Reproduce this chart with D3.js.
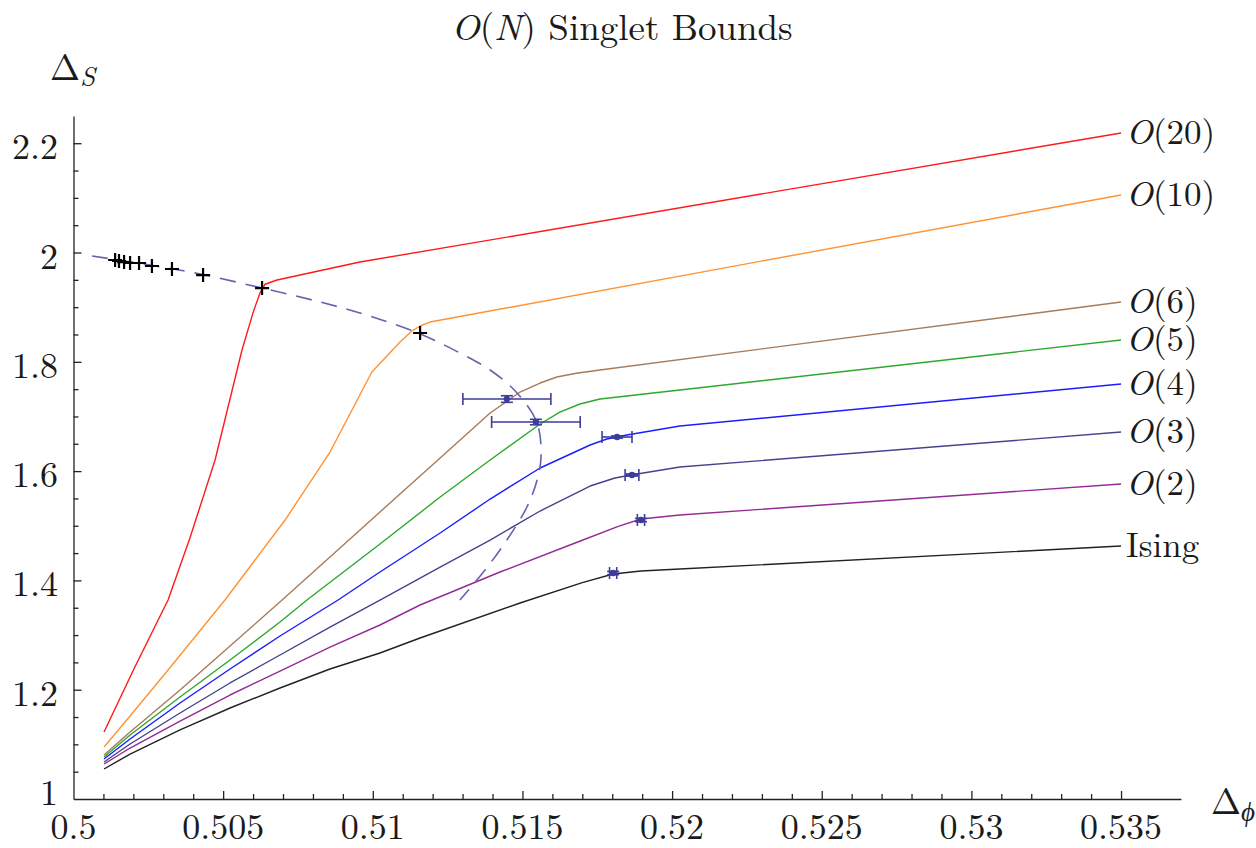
<!DOCTYPE html>
<html><head><meta charset="utf-8">
<script src="https://cdn.jsdelivr.net/npm/d3@7"></script>
<style>
body{margin:0;background:#fff}
svg{display:block;background:#fff}
</style>
</head><body>
<svg id="chart" width="1256" height="848"></svg>
<script>
// ---------- data ----------
const xTickValues = [0.5, 0.505, 0.51, 0.515, 0.52, 0.525, 0.53, 0.535];
const xTickLabels = ["0.5", "0.505", "0.51", "0.515", "0.52", "0.525", "0.53", "0.535"];
const yTickValues = [1, 1.2, 1.4, 1.6, 1.8, 2, 2.2];
const yTickLabels = ["1", "1.2", "1.4", "1.6", "1.8", "2", "2.2"];

const seriesNames = ["O(20)", "O(10)", "O(6)", "O(5)", "O(4)", "O(3)", "O(2)", "Ising"];

const o20X = [0.50102, 0.50205, 0.50316, 0.50389, 0.50473, 0.50563, 0.50600, 0.50623, 0.50640, 0.50680, 0.50957, 0.535];
const o20Y = [1.1226, 1.2415, 1.3641, 1.4776, 1.6203, 1.8216, 1.8900, 1.9260, 1.9420, 1.9497, 1.9826, 2.2187];

const o10X = [0.50102, 0.50189, 0.50316, 0.50506, 0.50707, 0.50857, 0.50997, 0.51091, 0.51130, 0.51160, 0.51191, 0.535];
const o10Y = [1.0952, 1.1519, 1.2360, 1.3641, 1.5105, 1.6349, 1.7813, 1.8362, 1.8560, 1.8660, 1.8728, 2.1052];

const o6X = [0.50102, 0.50189, 0.50356, 0.50523, 0.50697, 0.50857, 0.51024, 0.51225, 0.51392, 0.51492, 0.51559, 0.51615, 0.51680, 0.51759, 0.535];
const o6Y = [1.0805, 1.1226, 1.1995, 1.2800, 1.3641, 1.4428, 1.5252, 1.6240, 1.7063, 1.7447, 1.7612, 1.7722, 1.7790, 1.7850, 1.9094];

const o5X = [0.50102, 0.50189, 0.50356, 0.50523, 0.50690, 0.50780, 0.51024, 0.51225, 0.51392, 0.51559, 0.51625, 0.51692, 0.51759, 0.52026, 0.535];
const o5Y = [1.0769, 1.1171, 1.1866, 1.2543, 1.3239, 1.3641, 1.4666, 1.5526, 1.6203, 1.6862, 1.7081, 1.7228, 1.7319, 1.7484, 1.8399];

const o4X = [0.50102, 0.50189, 0.50356, 0.50523, 0.50690, 0.50884, 0.51024, 0.51225, 0.51392, 0.51559, 0.51726, 0.51782, 0.51849, 0.52026, 0.535];
const o4Y = [1.0732, 1.1098, 1.1757, 1.2379, 1.2983, 1.3641, 1.4154, 1.4867, 1.5489, 1.6057, 1.6478, 1.6587, 1.6661, 1.6825, 1.7594];

const o3X = [0.50102, 0.50189, 0.50356, 0.50523, 0.50690, 0.50857, 0.51024, 0.51225, 0.51392, 0.51559, 0.51726, 0.51809, 0.51863, 0.52026, 0.535];
const o3Y = [1.0677, 1.1006, 1.1574, 1.2123, 1.2635, 1.3147, 1.3641, 1.4245, 1.4739, 1.5270, 1.5727, 1.5874, 1.5929, 1.6075, 1.6715];

const o2X = [0.50102, 0.50189, 0.50356, 0.50523, 0.50690, 0.50857, 0.51024, 0.51158, 0.51425, 0.51702, 0.51820, 0.51896, 0.52026, 0.535];
const o2Y = [1.0640, 1.0933, 1.1427, 1.1903, 1.2342, 1.2781, 1.3184, 1.3550, 1.4154, 1.4739, 1.4990, 1.5124, 1.5197, 1.5764];

const isingX = [0.50102, 0.50189, 0.50356, 0.50523, 0.50690, 0.50857, 0.51024, 0.51158, 0.51492, 0.51700, 0.51803, 0.51896, 0.52026, 0.535];
const isingY = [1.0549, 1.0823, 1.1263, 1.1665, 1.2031, 1.2379, 1.2672, 1.2946, 1.3586, 1.3960, 1.4117, 1.4172, 1.4209, 1.4629];

// large-N estimate (dashed curve)
const largeNX = [0.50062, 0.50256, 0.50423, 0.50630, 0.50824, 0.50957, 0.51151, 0.51291, 0.51392, 0.51482, 0.51549, 0.51562, 0.51549, 0.51515, 0.51448, 0.51375, 0.51291];
const largeNY = [1.9936, 1.9771, 1.9607, 1.9350, 1.9094, 1.8893, 1.8527, 1.8161, 1.7850, 1.7429, 1.6880, 1.6258, 1.5837, 1.5343, 1.4739, 1.4190, 1.3641];

// large-N points (+ markers)
const plusX = [0.50139, 0.50152, 0.50169, 0.50189, 0.50219, 0.50262, 0.50329, 0.50433, 0.50630, 0.51158];
const plusY = [1.9863, 1.9845, 1.9826, 1.9808, 1.9808, 1.9753, 1.9698, 1.9588, 1.9350, 1.8527];

// known estimates with error bars
const estX    = [0.51448, 0.51545, 0.51816, 0.51866, 0.51896, 0.51803];
const estXErr = [0.00147, 0.00148, 0.00050, 0.00023, 0.00012, 0.00012];
const estY    = [1.7319, 1.6898, 1.6624, 1.5929, 1.5105, 1.4135];
const estYErr = [0.006, 0.005, 0.002, 0.002, 0.003, 0.003];

// ---------- styles ----------
const FONT = "Latin Modern Roman";
const seriesColors = ["#ff1a1a", "#ff9333", "#a67b5a", "#2ca82c", "#1c1cff", "#43438f", "#952a95", "#222222"];
const seriesXs = [o20X, o10X, o6X, o5X, o4X, o3X, o2X, isingX];
const seriesYs = [o20Y, o10Y, o6Y, o5Y, o4Y, o3Y, o2Y, isingY];

const svg = d3.select("#chart");
const x = d3.scaleLinear().domain([0.5, 0.537]).range([73.5, 1180.9]);
const y = d3.scaleLinear().domain([1, 2.25]).range([799, 115.9]);

// ---------- axes ----------
const xMinor = d3.range(1, 36).filter(i => i % 5 !== 0).map(i => 0.5 + i * 0.001);
const yMinor = d3.range(1, 24).filter(i => i % 4 !== 0).map(i => 1 + i * 0.05);

const gx = svg.append("g").attr("transform", "translate(0,799)");
gx.call(d3.axisBottom(x).tickValues(xTickValues.slice(1)).tickSizeInner(-8).tickSizeOuter(0).tickFormat(""));
gx.append("g").call(d3.axisBottom(x).tickValues(xMinor).tickSizeInner(-5).tickSizeOuter(0).tickFormat(""))
  .select(".domain").remove();
gx.selectAll("path,line").attr("stroke", "#222").attr("stroke-width", 1.3);

const gy = svg.append("g").attr("transform", "translate(73.5,0)");
gy.call(d3.axisLeft(y).tickValues(yTickValues.slice(1)).tickSizeInner(-8).tickSizeOuter(0).tickFormat(""));
gy.append("g").call(d3.axisLeft(y).tickValues(yMinor).tickSizeInner(-5).tickSizeOuter(0).tickFormat(""))
  .select(".domain").remove();
gy.selectAll("path,line").attr("stroke", "#222").attr("stroke-width", 1.3);

const T = (sel) => sel.style("font-family", `"${FONT}"`).attr("fill", "#1a1a1a");

// tick labels
T(svg.append("g").selectAll("text").data(xTickValues).join("text"))
  .attr("x", d => x(d)).attr("y", 839)
  .attr("text-anchor", "middle").attr("font-size", 36)
  .text((d, i) => xTickLabels[i]);
T(svg.append("g").selectAll("text").data(yTickValues).join("text"))
  .attr("x", 58).attr("y", (d, i) => y(d) + (i === 0 ? 6 : 16))
  .attr("text-anchor", "end").attr("font-size", 36)
  .text((d, i) => yTickLabels[i]);

// axis titles
const ty = T(svg.append("text")).attr("x", 50).attr("y", 80).attr("font-size", 36);
ty.append("tspan").text("Δ");
ty.append("tspan").attr("font-size", 27).attr("font-style", "italic").attr("dy", 6).text("S");
const tx = T(svg.append("text")).attr("x", 1211).attr("y", 814).attr("font-size", 36);
tx.append("tspan").text("Δ");
tx.append("tspan").attr("font-size", 27).attr("font-style", "italic").attr("dy", 7).text("ϕ");

// title
const tt = T(svg.append("text")).attr("x", 622).attr("y", 40).attr("text-anchor", "middle").attr("font-size", 37);
tt.append("tspan").attr("font-style", "italic").text("O");
tt.append("tspan").text("(");
tt.append("tspan").attr("font-style", "italic").text("N");
tt.append("tspan").text(") Singlet Bounds");

// ---------- curves ----------
const line = d3.line().x(d => x(d[0])).y(d => y(d[1])).curve(d3.curveLinear);
const gLines = svg.append("g");
seriesNames.forEach((name, k) => {
  const pts = seriesXs[k].map((v, i) => [v, seriesYs[k][i]]);
  gLines.append("path").datum(pts).attr("d", line)
    .attr("fill", "none").attr("stroke", seriesColors[k]).attr("stroke-width", 1.4)
    .attr("stroke-linejoin", "round");
  const last = pts[pts.length - 1];
  const t = T(svg.append("text")).attr("x", x(last[0]) + 5).attr("y", y(last[1]) + 11).attr("font-size", 35);
  if (name.startsWith("O(")) {
    t.append("tspan").attr("font-style", "italic").text("O");
    t.append("tspan").text(name.slice(1));
  } else {
    t.text(name);
  }
});

// dashed large-N curve
const dashLine = d3.line().x(d => x(d[0])).y(d => y(d[1])).curve(d3.curveCatmullRom.alpha(0.5));
svg.append("path").datum(largeNX.map((v, i) => [v, largeNY[i]])).attr("d", dashLine)
  .attr("fill", "none").attr("stroke", "#6464ae").attr("stroke-width", 1.6)
  .attr("stroke-dasharray", "16,10");

// error bars
const ebColor = "#3d3d99";
const gE = svg.append("g").attr("stroke", ebColor).attr("stroke-width", 1.6).attr("fill", "none");
estX.forEach((v, i) => {
  const cx = x(v), cy = y(estY[i]);
  const x0 = x(v - estXErr[i]), x1 = x(v + estXErr[i]);
  const y0 = y(estY[i] - estYErr[i]), y1 = y(estY[i] + estYErr[i]);
  gE.append("line").attr("x1", x0).attr("x2", x1).attr("y1", cy).attr("y2", cy);
  gE.append("line").attr("x1", x0).attr("x2", x0).attr("y1", cy - 6).attr("y2", cy + 6);
  gE.append("line").attr("x1", x1).attr("x2", x1).attr("y1", cy - 6).attr("y2", cy + 6);
  gE.append("line").attr("x1", cx).attr("x2", cx).attr("y1", y0).attr("y2", y1);
  gE.append("line").attr("x1", cx - 6).attr("x2", cx + 6).attr("y1", y0).attr("y2", y0);
  gE.append("line").attr("x1", cx - 6).attr("x2", cx + 6).attr("y1", y1).attr("y2", y1);
  svg.append("circle").attr("cx", cx).attr("cy", cy).attr("r", 3.2).attr("fill", ebColor);
});

// plus markers
svg.append("g").selectAll("path").data(plusX).join("path")
  .attr("transform", (d, i) => `translate(${x(d)},${y(plusY[i])})`)
  .attr("d", "M-7,0H7M0,-7V7")
  .attr("stroke", "#000").attr("stroke-width", 2.2).attr("fill", "none");
</script>
</body></html>
